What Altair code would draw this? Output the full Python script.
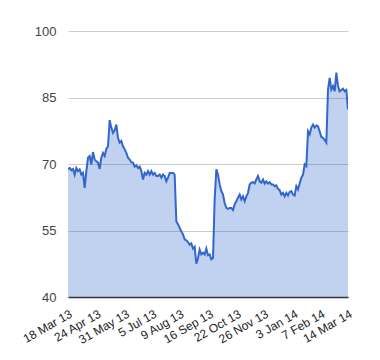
import altair as alt
import pandas as pd

# Values, evenly spaced across the time axis
values = [
    68.8, 69.1, 68.6, 68.9, 67.6, 69.1, 68.4, 68.8, 67.6, 68.0,
    64.6, 68.4, 71.4, 71.8, 69.9, 72.7, 71.0, 70.6, 70.3, 68.9,
    71.4, 72.5, 71.8, 73.4, 74.0, 79.9, 78.2, 77.0, 77.6, 78.9,
    75.9, 74.8, 75.2, 74.0, 73.3, 72.5, 71.4, 71.0, 70.4, 70.3,
    69.4,
    69.7, 69.1, 69.4, 68.4, 66.5, 68.0, 67.6, 68.4, 67.6, 68.4,
    67.6, 68.0, 67.3, 67.3, 67.6, 66.9, 67.6, 67.3, 66.1, 66.9,
    68.0, 67.9, 68.0, 67.6, 57.1, 56.4, 55.6, 54.8, 54.1, 53.0,
    52.8, 52.4, 51.8, 52.1, 50.9, 51.3, 47.5, 48.8, 50.7, 49.6,
    50.0,
    49.6, 50.9, 49.4, 49.6, 48.5, 48.8, 62.0, 68.8, 67.6, 65.4,
    63.9, 63.1, 61.2, 60.1, 59.9, 60.1, 60.1, 59.6, 60.9, 61.6,
    62.4, 63.1, 62.0, 62.7, 61.6, 62.7, 63.5, 65.4, 65.8, 65.9,
    65.6, 66.5, 67.3, 66.1, 65.8, 66.5, 65.6, 66.1, 65.6, 65.9,
    65.4,
    65.4, 65.0, 65.2, 64.4, 64.1, 63.1, 63.5, 62.7, 63.5, 62.9,
    63.7, 63.9, 63.1, 62.9, 65.0, 64.3, 65.6, 66.9, 67.6, 69.9,
    69.5, 77.4, 76.7, 78.2, 78.9, 78.2, 78.7, 78.5, 77.4, 76.1,
    75.9, 75.4, 74.8, 86.8, 89.4, 86.8, 87.6, 86.4, 90.6, 87.6,
    86.4, 86.7, 87.0, 86.4, 86.7, 82.3,
]

start_date = "2013-03-18"
end_date = "2014-03-14"
tick_dates = ["2013-03-18", "2013-04-24", "2013-05-31", "2013-07-05",
              "2013-08-09", "2013-09-16", "2013-10-22", "2013-11-26",
              "2014-01-03", "2014-02-07", "2014-03-14"]
y_ticks = [40, 55, 70, 85, 100]

dates = pd.date_range(start_date, end_date, periods=len(values))
df = pd.DataFrame({"date": dates, "value": values})


def dt(s):
    return alt.DateTime(year=int(s[:4]), month=int(s[5:7]), date=int(s[8:10]))


tick_values = [dt(d) for d in tick_dates]

chart = alt.Chart(df).mark_area(
    color="#3366CC",
    fillOpacity=0.3,
    clip=True,
    line=alt.OverlayMarkDef(color="#3366CC", strokeWidth=2, clip=True),
).encode(
    x=alt.X(
        "date:T",
        scale=alt.Scale(domain=[dt(start_date), dt(end_date)]),
        axis=alt.Axis(
            values=tick_values, format="%-d %b %y", labelAngle=330,
            labelAlign="right", labelBaseline="top", labelOverlap=False,
            labelFlush=False, ticks=False, grid=False, domainColor="#333333",
            domainWidth=1.5, labelFontSize=12, labelColor="#222222",
            labelPadding=11, title=None,
        ),
    ),
    y=alt.Y(
        "value:Q",
        scale=alt.Scale(domain=[40, 100], nice=False, zero=False),
        axis=alt.Axis(
            values=y_ticks, domain=False, ticks=False, gridColor="#cccccc",
            labelFontSize=13, labelColor="#444444", labelPadding=12, title=None,
        ),
    ),
    y2=alt.datum(40),
).properties(
    width=280,
    height=266,
    autosize=alt.AutoSizeParams(type="none"),
    padding={"left": 60, "top": 23, "right": 20, "bottom": 50},
).configure(
    font="Liberation Sans",
).configure_view(
    stroke=None,
)

chart.save("out.html", embed_options={"renderer": "svg", "actions": False})
